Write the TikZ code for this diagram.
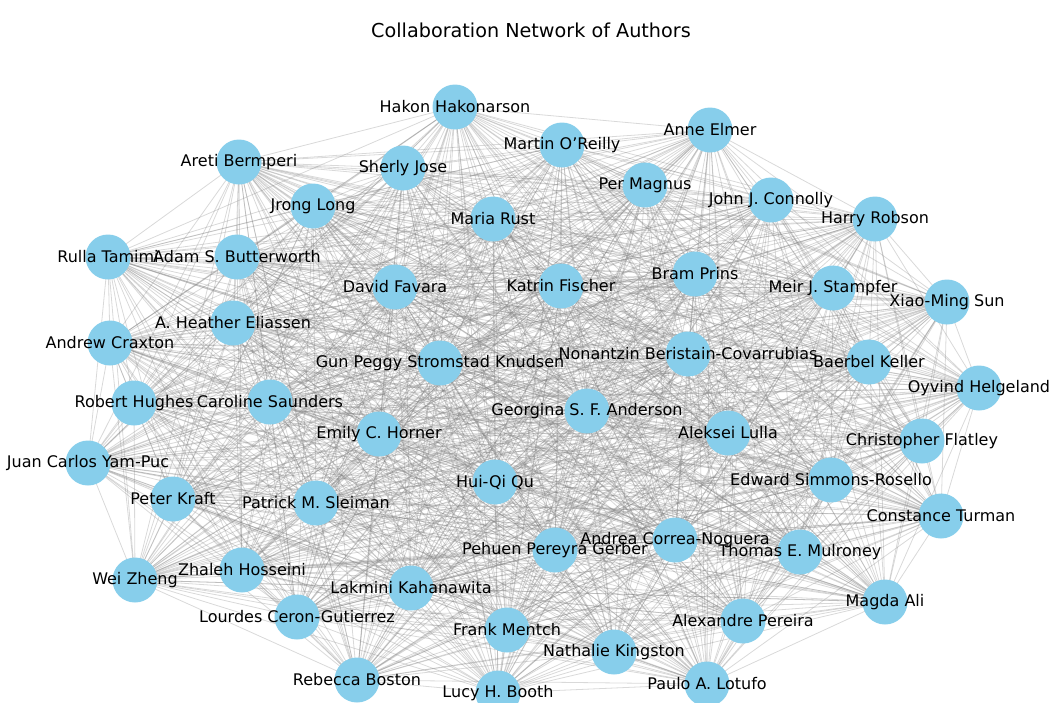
\documentclass[tikz,border=0pt]{standalone}
\usepackage{fontspec}
\setmainfont{DejaVu Sans}
\usetikzlibrary{backgrounds}

\definecolor{authorblue}{HTML}{87CEEB}

\tikzset{
  author/.style={circle,fill=authorblue,minimum size=45pt,inner sep=0pt},
  authorlbl/.style={text=black,font=\fontsize{16}{18}\selectfont,inner sep=0pt},
  collab/.style={gray,line width=0.8pt,opacity=0.3},
}

% id / x / y / printed name
\newcommand{\authorlist}{%
  hakon/455/107/Hakon Hakonarson,
  oreilly/562/145/Martin O'Reilly,
  elmer/710/130/Anne Elmer,
  bermperi/239/162/Areti Bermperi,
  jose/403/168/Sherly Jose,
  magnus/645/185/Per Magnus,
  long/313/206/Jrong Long,
  rust/493/219/Maria Rust,
  connolly/771/200/John J. Connolly,
  robson/875/219/Harry Robson,
  tamimi/108/257/Rulla Tamimi,
  butterworth/237/257/Adam S. Butterworth,
  favara/395/287/David Favara,
  fischer/561/286/Katrin Fischer,
  prins/695/274/Bram Prins,
  stampfer/833/288/Meir J. Stampfer,
  sun/947/302/Xiao-Ming Sun,
  eliassen/233/323/A. Heather Eliassen,
  craxton/110/343/Andrew Craxton,
  knudsen/440/363/Gun Peggy Stromstad Knudsen,
  beristain/688/354/Nonantzin Beristain-Covarrubias,
  keller/869/362/Baerbel Keller,
  helgeland/979/388/Oyvind Helgeland,
  hughes/134/403/Robert Hughes,
  saunders/270/402/Caroline Saunders,
  anderson/587/411/Georgina S. F. Anderson,
  horner/379/434/Emily C. Horner,
  lulla/728/433/Aleksei Lulla,
  flatley/922/441/Christopher Flatley,
  yampuc/88/463/Juan Carlos Yam-Puc,
  qu/495/482/Hui-Qi Qu,
  simmons/831/480/Edward Simmons-Rosello,
  kraft/173/499/Peter Kraft,
  sleiman/316/503/Patrick M. Sleiman,
  turman/941/516/Constance Turman,
  gerber/555/550/Pehuen Pereyra Gerber,
  correa/675/540/Andrea Correa-Noguera,
  mulroney/800/552/Thomas E. Mulroney,
  hosseini/242/570/Zhaleh Hosseini,
  zheng/135/580/Wei Zheng,
  kahanawita/411/588/Lakmini Kahanawita,
  ali/885/602/Magda Ali,
  ceron/297/617/Lourdes Ceron-Gutierrez,
  mentch/507/630/Frank Mentch,
  pereira/743/621/Alexandre Pereira,
  kingston/614/652/Nathalie Kingston,
  boston/357/680/Rebecca Boston,
  booth/498/693/Lucy H. Booth,
  lotufo/707/684/Paulo A. Lotufo%
}

\begin{document}
\begin{tikzpicture}[x=1pt,y=-1pt]
  \useasboundingbox (0,0) rectangle (1052,702);

  \node[font=\fontsize{19.2}{22}\selectfont,text=black] (title) at (531,30)
    {Collaboration Network of Authors};

  % authors
  \foreach \id/\x/\y/\who in \authorlist
    \node[author] (\id) at (\x,\y) {};

  % co-authorship links, everyone to everyone
  \begin{pgfonlayer}{background}
    \foreach \a/\xa/\ya/\wa [count=\i] in \authorlist {
      \foreach \b/\xb/\yb/\wb [count=\j] in \authorlist {
        \ifnum\j>\i \draw[collab] (\a.center) -- (\b.center); \fi
      }
    }
  \end{pgfonlayer}

  % names go on top of every disc
  \foreach \id/\x/\y/\who in \authorlist
    \node[authorlbl] (\id-lbl) at (\id) {\who};
\end{tikzpicture}
\end{document}
